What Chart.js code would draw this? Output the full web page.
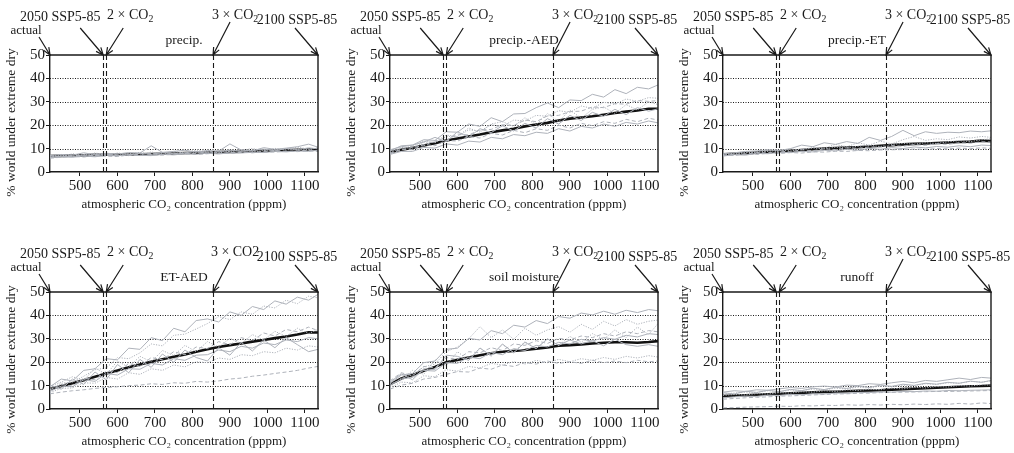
<!DOCTYPE html>
<html>
<head>
<meta charset="utf-8">
<script src="https://cdn.jsdelivr.net/npm/chart.js@4.4.1/dist/chart.umd.min.js"></script>
<style>
  body { margin: 0; background: #fff; width: 1014px; height: 453px; position: relative; overflow: hidden; }
  canvas { position: absolute; }
</style>
</head>
<body>
<script>
// ---- data ----
const co2 = [420, 450, 480, 510, 540, 570, 600, 630, 660, 690, 720, 750, 780, 810, 840, 870, 900, 930, 960, 990, 1020, 1050, 1080, 1110, 1135];
const xTickValues = [500, 600, 700, 800, 900, 1000, 1100];
const yTickValues = [0, 10, 20, 30, 40, 50];
const markerActual = 420, marker2050 = 562, marker2x = 570, marker3x = 855, marker2100 = 1135;
const panelTitles = ['precip.', 'precip.-AED', 'precip.-ET', 'ET-AED', 'soil moisture', 'runoff'];
const yTitle = '% world under extreme dry';

const meanPrecip = [6.8, 6.9, 7.0, 7.1, 7.3, 7.4, 7.4, 7.5, 7.6, 7.7, 7.8, 7.9, 8.1, 8.2, 8.3, 8.5, 8.6, 8.7, 8.9, 9.0, 9.2, 9.3, 9.5, 9.6, 9.7];
const membersPrecip = [
  [6.2, 6.9, 6.5, 7.4, 6.8, 7.6, 7.0, 7.3, 8.0, 7.5, 8.4, 7.8, 8.2, 8.8, 8.0, 8.6, 9.4, 8.8, 9.2, 9.8, 9.1, 10.0, 9.6, 10.3, 9.9],
  [7.3, 6.6, 7.8, 7.0, 7.9, 7.2, 8.1, 7.6, 7.1, 8.6, 7.5, 8.9, 7.9, 8.3, 9.1, 8.2, 8.8, 9.6, 8.7, 9.1, 10.1, 9.4, 9.9, 9.5, 10.4],
  [5.9, 6.3, 6.7, 6.4, 7.0, 6.8, 6.6, 7.3, 7.0, 7.4, 7.2, 7.6, 7.9, 7.5, 7.8, 8.1, 7.9, 8.4, 8.2, 8.6, 8.5, 8.9, 8.7, 9.1, 8.8],
  [7.0, 7.5, 7.2, 8.2, 7.4, 8.0, 7.7, 8.3, 8.1, 11.2, 8.4, 8.8, 9.3, 8.5, 9.2, 8.9, 12.0, 9.4, 9.0, 10.4, 9.7, 10.2, 10.8, 11.9, 10.6],
  [6.5, 7.1, 6.9, 7.3, 8.1, 7.5, 7.2, 7.8, 8.4, 7.6, 8.0, 8.7, 8.2, 9.4, 8.6, 9.0, 8.7, 9.3, 10.0, 9.2, 9.6, 9.9, 10.6, 9.8, 10.2],
  [6.8, 6.4, 7.3, 6.9, 7.1, 7.8, 7.3, 7.0, 7.7, 7.9, 7.4, 8.1, 7.7, 8.0, 8.5, 7.9, 8.3, 8.6, 8.3, 8.8, 9.2, 8.8, 9.0, 9.4, 9.1],
  [6.1, 6.6, 6.3, 6.8, 6.5, 7.1, 6.9, 7.4, 7.1, 7.0, 7.6, 7.3, 7.8, 7.6, 8.0, 7.7, 8.2, 8.1, 8.5, 8.3, 8.8, 8.6, 9.0, 8.8, 9.3]
];

const meanPrecipAED = [8.5, 9.5, 10.3, 11.3, 12.3, 13.5, 14.3, 15.2, 16.0, 17.0, 17.8, 18.5, 19.5, 20.3, 21.0, 22.0, 22.8, 23.3, 23.8, 24.5, 25.2, 25.8, 26.3, 27.0, 27.0];
const membersPrecipAED = [
  [9.0, 11.2, 11.5, 13.8, 13.5, 17.2, 17.0, 20.5, 19.5, 23.2, 21.5, 24.8, 25.0, 27.5, 29.5, 27.5, 30.8, 30.5, 33.2, 32.0, 35.2, 33.5, 36.2, 35.5, 37.2],
  [8.2, 10.5, 10.2, 12.8, 12.8, 15.8, 15.2, 18.0, 17.5, 20.2, 19.5, 22.2, 21.8, 24.2, 23.8, 26.2, 25.5, 28.2, 27.2, 29.8, 29.0, 31.2, 30.2, 31.8, 31.5],
  [7.8, 9.5, 10.5, 11.2, 13.5, 13.5, 16.2, 15.8, 18.0, 18.2, 20.2, 19.8, 22.2, 21.5, 24.0, 24.2, 25.8, 26.0, 27.8, 27.5, 29.2, 29.0, 30.5, 30.2, 30.5],
  [7.5, 8.8, 8.8, 10.5, 10.2, 12.0, 11.5, 13.2, 12.8, 14.8, 14.2, 16.0, 15.5, 17.0, 16.5, 18.5, 17.5, 19.5, 18.8, 20.5, 19.5, 21.2, 20.5, 21.8, 21.0],
  [8.8, 10.2, 11.0, 13.2, 12.5, 15.2, 15.2, 18.8, 17.0, 20.5, 21.5, 19.5, 23.2, 20.2, 25.0, 21.5, 26.5, 23.0, 26.8, 27.8, 25.0, 28.8, 26.5, 30.0, 28.8],
  [8.0, 9.8, 9.5, 11.8, 11.2, 13.5, 13.2, 15.2, 14.5, 16.5, 15.8, 17.8, 16.8, 18.5, 17.8, 20.0, 18.8, 20.8, 19.8, 21.5, 20.8, 22.5, 21.5, 23.0, 22.2],
  [9.5, 10.8, 11.5, 12.8, 14.8, 13.0, 17.2, 14.8, 18.5, 16.8, 19.8, 17.5, 20.8, 18.8, 22.8, 20.5, 24.2, 22.0, 25.5, 23.8, 26.8, 24.5, 27.5, 26.0, 27.0]
];

const meanPrecipET = [7.6, 7.8, 8.0, 8.3, 8.6, 8.9, 9.1, 9.4, 9.7, 10.0, 10.2, 10.4, 10.6, 10.9, 11.2, 11.5, 11.8, 12.0, 12.2, 12.4, 12.6, 12.8, 13.0, 13.4, 13.2];
const membersPrecipET = [
  [7.8, 8.2, 8.8, 9.0, 9.5, 9.2, 10.0, 11.5, 10.8, 12.5, 11.8, 13.0, 12.2, 14.8, 13.5, 15.2, 17.8, 15.5, 17.2, 16.5, 17.0, 16.8, 17.5, 17.2, 17.6],
  [7.5, 8.0, 8.5, 8.2, 9.2, 9.0, 9.8, 9.5, 10.5, 10.2, 11.8, 10.8, 12.5, 11.5, 13.2, 12.0, 13.8, 15.2, 13.5, 14.2, 13.8, 15.0, 14.5, 15.2, 14.8],
  [7.0, 7.6, 7.6, 8.3, 8.2, 8.9, 8.6, 9.5, 9.1, 9.9, 9.6, 10.3, 10.1, 10.7, 10.6, 11.3, 11.0, 11.7, 11.4, 12.1, 11.8, 12.5, 12.3, 12.9, 12.8],
  [6.8, 7.4, 7.2, 8.0, 7.8, 8.4, 8.3, 8.8, 8.6, 9.3, 9.0, 9.7, 9.3, 10.1, 9.7, 10.4, 10.0, 10.7, 10.3, 10.9, 10.6, 11.2, 10.8, 11.5, 11.3],
  [7.2, 7.6, 8.2, 8.6, 8.8, 9.4, 9.0, 9.8, 10.2, 9.9, 10.6, 10.3, 11.0, 11.4, 10.9, 11.8, 12.2, 11.9, 12.5, 12.2, 12.9, 13.4, 13.0, 13.8, 14.2],
  [7.4, 7.0, 7.8, 7.5, 8.0, 7.9, 8.3, 8.1, 8.6, 8.5, 8.9, 8.8, 9.2, 9.1, 9.4, 9.5, 9.6, 9.8, 9.7, 10.0, 9.9, 10.2, 10.0, 10.3, 10.1]
];

const meanETAED = [8.5, 9.8, 11.0, 12.3, 13.8, 15.2, 16.5, 17.8, 19.0, 20.2, 21.3, 22.3, 23.3, 24.5, 25.5, 26.5, 27.3, 28.0, 28.8, 29.5, 30.3, 31.0, 31.8, 32.8, 32.7];
const membersETAED = [
  [9.5, 12.8, 12.0, 16.5, 17.2, 21.5, 21.0, 26.0, 25.5, 30.5, 29.2, 34.5, 33.0, 37.8, 38.5, 37.2, 41.5, 40.0, 43.8, 42.5, 46.2, 44.8, 47.8, 46.5, 49.0],
  [8.5, 11.0, 11.5, 14.0, 16.8, 17.5, 22.0, 21.5, 24.0, 27.8, 27.0, 31.5, 32.0, 34.2, 36.5, 39.5, 38.2, 41.5, 40.5, 44.0, 43.2, 46.5, 45.0, 48.2, 47.5],
  [8.2, 10.5, 9.8, 13.2, 12.5, 16.2, 15.5, 19.5, 18.2, 22.0, 21.0, 24.5, 23.2, 26.5, 25.8, 28.8, 27.5, 30.5, 29.2, 32.5, 31.2, 34.0, 33.0, 35.0, 33.5],
  [7.5, 9.8, 9.5, 12.5, 11.8, 15.2, 14.5, 17.2, 17.0, 19.5, 18.8, 21.5, 20.8, 23.0, 23.2, 25.2, 24.5, 26.8, 26.0, 28.2, 27.5, 29.5, 28.8, 30.5, 30.0],
  [7.0, 8.8, 9.0, 11.2, 11.0, 13.5, 12.8, 15.5, 14.8, 17.2, 16.5, 18.8, 18.0, 20.2, 19.8, 21.8, 21.2, 23.2, 22.8, 24.5, 24.0, 26.0, 25.2, 27.0, 26.5],
  [6.5, 7.2, 7.8, 8.2, 8.8, 9.2, 9.5, 10.0, 10.2, 10.8, 10.5, 11.2, 11.0, 11.8, 11.5, 12.0, 12.8, 13.2, 14.0, 14.5, 15.2, 15.8, 16.5, 17.5, 18.2],
  [10.2, 8.5, 12.8, 10.5, 15.8, 12.5, 19.0, 15.5, 21.2, 17.8, 23.5, 20.0, 25.2, 22.0, 20.5, 26.2, 23.0, 28.5, 24.8, 29.5, 26.2, 30.5, 27.5, 24.5, 25.5],
  [9.8, 11.5, 13.8, 12.2, 17.5, 14.8, 20.5, 17.8, 22.5, 20.2, 25.0, 22.8, 27.2, 24.5, 28.8, 26.5, 30.2, 28.0, 31.8, 29.5, 33.2, 31.0, 34.5, 32.2, 34.0]
];

const meanSoil = [10.5, 13.0, 14.5, 16.3, 18.0, 20.0, 21.0, 22.0, 23.0, 23.8, 24.5, 24.8, 25.2, 25.8, 26.3, 27.0, 27.3, 27.6, 28.0, 28.3, 28.5, 28.5, 28.3, 28.6, 29.0];
const membersSoil = [
  [11.0, 14.5, 15.2, 19.8, 20.5, 25.5, 26.0, 30.2, 29.5, 33.5, 32.2, 35.8, 35.0, 37.8, 36.5, 39.5, 38.8, 41.0, 40.2, 41.8, 40.5, 42.2, 41.2, 42.5, 42.0],
  [9.5, 13.2, 14.5, 18.0, 19.2, 24.5, 26.5, 30.0, 35.2, 30.5, 33.8, 29.8, 34.5, 31.5, 33.8, 35.2, 32.8, 36.2, 34.0, 37.5, 35.5, 38.2, 36.2, 37.5, 38.0],
  [12.0, 15.5, 14.2, 18.2, 17.5, 22.0, 21.2, 24.5, 24.0, 26.2, 25.0, 27.8, 27.2, 29.2, 28.0, 30.2, 29.5, 31.2, 30.5, 32.2, 31.2, 33.0, 32.2, 33.5, 33.0],
  [10.2, 12.8, 13.5, 16.5, 16.2, 19.8, 19.5, 22.2, 21.5, 24.2, 23.2, 25.8, 25.0, 27.2, 26.5, 28.5, 27.8, 29.8, 29.0, 30.5, 29.8, 31.5, 30.8, 32.2, 31.8],
  [9.0, 11.5, 11.2, 14.2, 13.8, 16.8, 16.2, 18.2, 17.5, 19.5, 18.8, 20.2, 19.2, 20.8, 19.8, 21.2, 20.2, 21.5, 20.8, 22.0, 21.2, 22.5, 21.8, 22.8, 22.2],
  [8.5, 10.2, 11.0, 12.8, 13.5, 14.8, 16.0, 15.8, 17.5, 17.0, 18.8, 18.2, 19.8, 19.2, 20.5, 19.5, 20.2, 19.5, 20.8, 19.8, 20.5, 19.8, 20.8, 20.2, 20.5],
  [11.5, 15.0, 12.5, 17.2, 16.8, 23.0, 22.5, 20.8, 26.0, 22.8, 27.8, 24.0, 28.5, 25.8, 30.0, 27.2, 29.5, 27.8, 29.2, 27.0, 29.8, 27.5, 26.8, 27.5, 26.8],
  [10.8, 12.2, 16.5, 14.8, 21.0, 18.5, 24.5, 20.8, 26.2, 22.5, 27.5, 24.2, 28.8, 25.8, 29.8, 27.2, 31.0, 28.5, 32.2, 29.8, 33.8, 30.5, 35.0, 31.8, 36.5]
];

const meanRunoff = [5.5, 5.7, 5.9, 6.1, 6.3, 6.5, 6.7, 6.9, 7.1, 7.3, 7.4, 7.6, 7.8, 7.9, 8.0, 8.3, 8.5, 8.7, 8.9, 9.1, 9.3, 9.5, 9.7, 9.8, 10.0];
const membersRunoff = [
  [7.2, 7.8, 7.5, 8.2, 8.0, 8.6, 9.2, 8.8, 9.5, 9.8, 9.4, 10.2, 10.0, 10.8, 10.5, 11.2, 11.8, 11.2, 12.2, 11.8, 12.5, 13.2, 12.6, 13.5, 13.2],
  [6.5, 6.8, 7.2, 7.0, 7.8, 7.4, 8.1, 7.9, 8.5, 8.2, 8.9, 8.6, 9.3, 9.0, 9.8, 9.5, 10.2, 10.0, 10.8, 10.5, 11.2, 11.0, 11.8, 11.5, 12.0],
  [0.5, 0.6, 0.8, 0.9, 1.0, 1.2, 1.1, 1.4, 1.3, 1.6, 1.5, 1.8, 1.6, 1.9, 1.7, 2.0, 1.8, 2.1, 1.9, 2.2, 2.0, 2.4, 2.1, 2.6, 2.3],
  [4.8, 5.2, 5.5, 5.4, 5.9, 5.8, 6.2, 6.1, 6.5, 6.4, 6.8, 6.7, 7.1, 7.0, 7.3, 7.2, 7.5, 7.4, 7.7, 7.6, 7.9, 7.8, 8.0, 8.1, 8.2],
  [5.8, 6.2, 6.0, 6.6, 6.4, 7.0, 6.8, 7.4, 7.2, 7.8, 7.5, 8.2, 7.9, 8.5, 8.2, 8.9, 8.6, 9.3, 9.0, 9.6, 9.4, 10.0, 9.8, 10.4, 10.2],
  [4.2, 4.5, 4.8, 5.0, 5.2, 5.5, 5.6, 5.8, 6.0, 6.2, 6.4, 6.5, 6.7, 6.8, 7.0, 7.1, 7.2, 7.3, 7.4, 7.5, 7.5, 7.6, 7.7, 7.8, 7.9],
  [7.0, 6.4, 7.6, 7.1, 8.0, 7.4, 8.4, 7.8, 8.9, 8.3, 9.3, 8.8, 9.8, 9.2, 10.2, 9.7, 10.6, 10.1, 11.0, 10.6, 11.4, 11.0, 11.9, 11.4, 12.2]
];

const panelMeans = [meanPrecip, meanPrecipAED, meanPrecipET, meanETAED, meanSoil, meanRunoff];
const panelMembers = [membersPrecip, membersPrecipAED, membersPrecipET, membersETAED, membersSoil, membersRunoff];

// ---- layout / style ----
const SERIF = '"Liberation Serif", "Times New Roman", serif';
const INK = '#1a1a1a';
const GREY = '#aeb2ba';
const memberDash = [[], [1.2, 1.4], [4, 2.5]];
const colLeft = [0, 340, 673];
const rowTop = [0, 237];

// text with optional subscript pieces: [[text, isSub], ...]
function partsWidth(ctx, parts, size) {
  let w = 0;
  parts.forEach(([t, sub]) => {
    ctx.font = `${sub ? size * 0.7 : size}px ${SERIF}`;
    w += ctx.measureText(t).width;
  });
  return w;
}
function drawParts(ctx, parts, cx, cy, size) {
  let x = cx - partsWidth(ctx, parts, size) / 2;
  ctx.textAlign = 'left';
  ctx.textBaseline = 'middle';
  parts.forEach(([t, sub]) => {
    ctx.font = `${sub ? size * 0.7 : size}px ${SERIF}`;
    ctx.fillText(t, x, sub ? cy + size * 0.3 : cy);
    x += ctx.measureText(t).width;
  });
}
function arrow(ctx, x1, y1, x2, y2) {
  const ang = Math.atan2(y2 - y1, x2 - x1);
  const h = 8, s = 0.4;
  ctx.beginPath();
  ctx.moveTo(x1, y1);
  ctx.lineTo(x2, y2);
  ctx.moveTo(x2 - h * Math.cos(ang - s), y2 - h * Math.sin(ang - s));
  ctx.lineTo(x2, y2);
  ctx.lineTo(x2 - h * Math.cos(ang + s), y2 - h * Math.sin(ang + s));
  ctx.stroke();
}

const framePlugin = {
  id: 'frame',
  beforeDatasetsDraw(chart) {
    const { ctx, chartArea: a, scales: { y } } = chart;
    ctx.save();
    ctx.strokeStyle = INK;
    ctx.lineWidth = 1;
    ctx.setLineDash([1, 1.5]);
    yTickValues.slice(1, -1).forEach(v => {
      const py = Math.round(y.getPixelForValue(v)) + 0.5;
      ctx.beginPath();
      ctx.moveTo(a.left, py);
      ctx.lineTo(a.right, py);
      ctx.stroke();
    });
    ctx.restore();
  },
  afterDatasetsDraw(chart) {
    const { ctx, chartArea: a, scales: { x, y } } = chart;
    ctx.save();
    ctx.strokeStyle = INK;
    ctx.lineWidth = 1.1;
    ctx.setLineDash([5, 3]);
    [marker2050, marker2x, marker3x].forEach(v => {
      const px = Math.round(x.getPixelForValue(v)) + 0.5;
      ctx.beginPath();
      ctx.moveTo(px, a.top);
      ctx.lineTo(px, a.bottom);
      ctx.stroke();
    });
    ctx.setLineDash([]);
    ctx.lineWidth = 1.4;
    const top = y.getPixelForValue(50);
    const right = x.getPixelForValue(marker2100);
    ctx.beginPath();
    ctx.moveTo(a.left, top);
    ctx.lineTo(right, top);
    ctx.lineTo(right, a.bottom);
    ctx.stroke();
    ctx.restore();
  },
  afterDraw(chart, args, opts) {
    const { ctx, chartArea: a, scales: { x } } = chart;
    const top = a.top;
    const co2Parts = opts.plain3 ? [['3 × CO2']] : [['3 × CO'], ['2', true]];
    const labels = [
      { v: markerActual, parts: [['actual']], size: 13, sx: -11, sy: -18, tx: -24, ty: -24 },
      { v: marker2050, parts: [['2050 SSP5-85']], size: 14, sx: -23, sy: -27, tx: -43, ty: -38 },
      { v: marker2x, parts: [['2 × CO'], ['2', true]], size: 14, sx: 17, sy: -27, tx: 24, ty: -40 },
      { v: marker3x, parts: co2Parts, size: 14, sx: 17, sy: -33, tx: 22, ty: -40 },
      { v: marker2100, parts: [['2100 SSP5-85']], size: 14, sx: -23, sy: -27, tx: -21, ty: -35 }
    ];
    ctx.save();
    ctx.strokeStyle = INK;
    ctx.fillStyle = INK;
    ctx.lineWidth = 1.2;
    labels.forEach(l => {
      const px = x.getPixelForValue(l.v);
      arrow(ctx, px + l.sx, top + l.sy, px, top);
      drawParts(ctx, l.parts, px + l.tx, top + l.ty, l.size);
    });
    drawParts(ctx, [[opts.title]], (a.left + a.right) / 2, top - 15, 13.5);

    // y axis title, set a little below the plot centre as in the original
    ctx.translate(11, (a.top + a.bottom) / 2 + 9);
    ctx.rotate(-Math.PI / 2);
    drawParts(ctx, [[yTitle]], 0, 0, 13.5);
    ctx.restore();
  }
};

function buildPanel(i) {
  const canvas = document.createElement('canvas');
  canvas.width = 338;
  canvas.height = 216;
  canvas.style.left = colLeft[i % 3] + 'px';
  canvas.style.top = rowTop[Math.floor(i / 3)] + 'px';
  document.body.appendChild(canvas);

  const datasets = panelMembers[i].map((m, k) => ({
    data: co2.map((c, j) => ({ x: c, y: m[j] })),
    borderColor: GREY,
    borderWidth: 1,
    borderDash: memberDash[k % 3],
    pointRadius: 0
  }));
  datasets.push({
    data: co2.map((c, j) => ({ x: c, y: panelMeans[i][j] })),
    borderColor: '#111',
    borderWidth: 2.6,
    pointRadius: 0
  });

  const tickFont = { family: SERIF, size: 15 };
  const titleFont = { family: SERIF, size: 13 };
  new Chart(canvas.getContext('2d'), {
    type: 'line',
    data: { datasets },
    plugins: [framePlugin],
    options: {
      responsive: false,
      animation: false,
      layout: { padding: { top: 55, right: 20, left: 0, bottom: 0 } },
      plugins: {
        legend: { display: false },
        tooltip: { enabled: false },
        frame: { title: panelTitles[i], plain3: i === 3 }
      },
      scales: {
        x: {
          type: 'linear',
          min: markerActual,
          max: marker2100,
          afterBuildTicks: s => { s.ticks = xTickValues.map(v => ({ value: v })); },
          afterFit: s => { s.height = 44; },
          ticks: { font: tickFont, color: INK, maxRotation: 0, padding: 1, callback: v => String(v) },
          grid: { drawOnChartArea: false, tickLength: 4, color: INK },
          border: { color: INK, width: 1.4 },
          title: {
            display: true,
            text: 'atmospheric CO₂ concentration (pppm)',
            font: titleFont,
            color: INK,
            padding: { top: 0, bottom: 4 }
          }
        },
        y: {
          min: 0,
          max: 50,
          afterBuildTicks: s => { s.ticks = yTickValues.map(v => ({ value: v })); },
          afterFit: s => { s.width = 50; },
          ticks: { font: tickFont, color: INK, padding: 1, callback: v => String(v) },
          grid: { drawOnChartArea: false, tickLength: 4, color: INK },
          border: { color: INK, width: 1.4 }
        }
      }
    }
  });
}

for (let i = 0; i < 6; i++) buildPanel(i);
</script>
</body>
</html>
